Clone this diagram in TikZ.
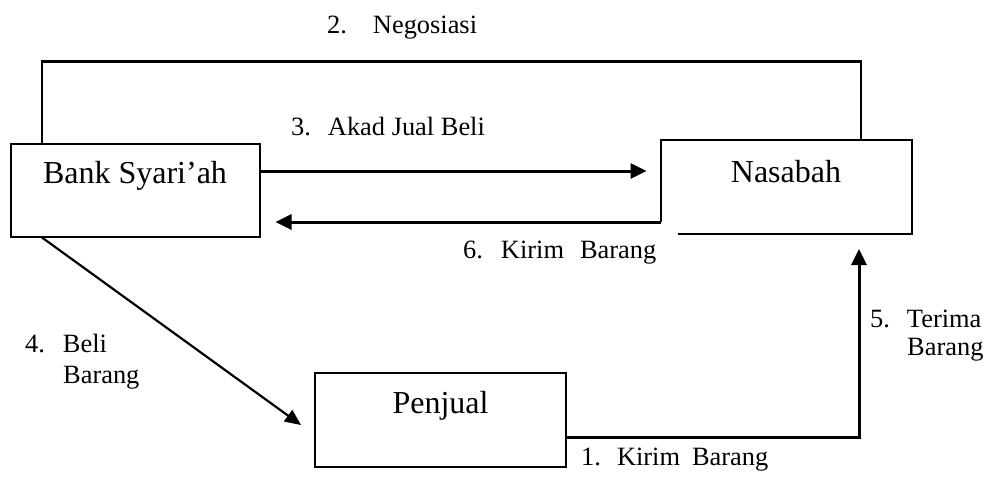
\documentclass[tikz,border=0pt]{standalone}
\usepackage{fontspec}
\setmainfont{Liberation Serif}
\usetikzlibrary{arrows.meta,positioning}

\begin{document}
\begin{tikzpicture}[x=1pt,y=-1pt,
        kotak/.style={inner sep=0pt, line width=2pt, minimum width=249pt,
          text height=40pt, text depth=53pt, font=\fontsize{32}{36}\selectfont},
        ket/.style={inner sep=0pt, anchor=base west, font=\fontsize{26.4}{29}\selectfont},
        panah/.style={line width=3pt, -{Triangle[length=16pt,width=15pt]}}]
        \useasboundingbox (0,0) rectangle (987,477);
        \node [kotak,draw] (bank) at (135,190) {Bank Syari’ah};
        \node [kotak, text height=41pt, text depth=51pt] (nasabah) at (786,187) {Nasabah};
        \node [kotak,draw, minimum width=251pt, text height=40pt, text depth=54pt] (penjual) at (440.5,420) {Penjual};
        \draw [line width=2pt] ([yshift=-35pt]nasabah.west) -- (nasabah.north west) -- (nasabah.north east)
          -- (nasabah.south east) -- ([xshift=17pt]nasabah.south west);
        \draw [line width=2.6pt] ([xshift=-93pt]bank.north) -- ++(0,-81) -| ([xshift=75pt]nasabah.north);
        \node [ket] (ket2) at (327,33) {2.\hspace{26pt}Negosiasi};
        \draw [panah, shorten >=14pt] ([yshift=19pt]bank.east) -- ([yshift=19pt]bank.east -| nasabah.west);
        \node [ket] (ket3) at (291,135) {3.\hspace{17pt}Akad Jual Beli};
        \draw [panah, shorten >=15pt] ([yshift=-35pt]nasabah.west) -- ([yshift=-35pt]nasabah.west -| bank.east);
        \node [ket] (ket6) at (463,258) {6.\hspace{18pt}Kirim\hspace{16pt}Barang};
        \draw [line width=2.2pt, -{Triangle[length=16pt,width=14pt]}] ([xshift=-93pt]bank.south)
          -- ([xshift=-13pt,yshift=-5pt]penjual.west);
        \node [ket] (ket4) at (25,352) {4.\hspace{18pt}Beli};
        \node [ket] (ket4b) at (63,383) {Barang};
        \draw [panah] ([yshift=-17pt]penjual.east) -| ([xshift=73pt,yshift=-15pt]nasabah.south);
        \node [ket] (ket5) at (870,327) {5.\hspace{17pt}Terima};
        \node [ket] (ket5b) at (907,355) {Barang};
        \node [ket] (ket1) at (581,465) {1.\hspace{16pt}Kirim\hspace{12pt}Barang};
\end{tikzpicture}
\end{document}
